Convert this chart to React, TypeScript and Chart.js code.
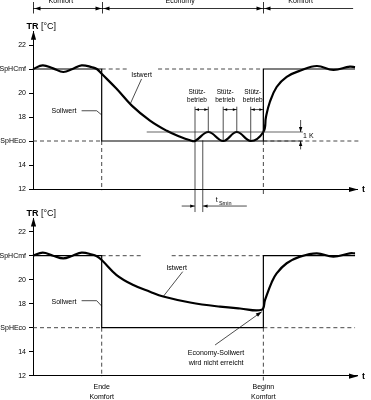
import React, { useEffect, useRef } from 'react';
import { Chart, registerables } from 'chart.js';

Chart.register(...registerables);

const FONT = '"Liberation Sans", Arial, Helvetica, sans-serif';

// ---- axes ----
const Y_TICKS = [12, 14, 16, 18, 20, 22, 24];
const Y_TICK_LABELS = ['12', '14', 'SpHEco', '18', '20', 'SpHCmf', '22'];
const Y_MIN = 12;
const Y_MAX = 25.1;
const X_MIN = 0;
const X_MAX = 100;

// ---- setpoints / phases ----
const SP_CMF = 22;
const SP_ECO = 16;
const END_COMFORT = 21.2;
const BEGIN_COMFORT = 71.1;
const SETPOINT_END = 99.4;

const PHASES = ['Komfort', 'Economy', 'Komfort'];
const PHASE_BOUNDS = [0, 21.2, 71.1, 98.8];
const PHASE_LABEL_X = [8.6, 45.4, 82.6];

// Sollwert (step)
const SOLL_X = [0, END_COMFORT, END_COMFORT, BEGIN_COMFORT, BEGIN_COMFORT, SETPOINT_END];
const SOLL_Y = [SP_CMF, SP_CMF, SP_ECO, SP_ECO, SP_CMF, SP_CMF];

// ---- Istwert curves ----
const TOP_IST_X = [0, 3.0, 6.2, 9.35, 12.2, 15.0, 18.2, 19.7, 21.2, 25.8, 30.5, 36.1, 41.3, 45.4, 48.5, 50.0, 54.1, 58.7, 62.9, 67.2, 71.1, 71.9, 73.1, 75.2, 78.3, 82.4, 87.6, 92.7, 97.8, 99.4];
const TOP_IST_Y = [22.0, 22.3, 22.05, 21.75, 22.0, 22.3, 22.15, 22.0, 21.6, 20.35, 18.95, 17.7, 16.85, 16.35, 16.06, 16.0, 16.75, 16.0, 16.75, 16.0, 16.75, 18.0, 19.25, 20.5, 21.35, 21.85, 22.25, 21.92, 22.2, 22.15];

const BOT_IST_X = [0, 3.0, 6.2, 9.35, 12.2, 15.0, 18.2, 19.7, 21.2, 25.8, 30.96, 36.1, 40.2, 48.5, 57.7, 63.9, 70.6, 71.6, 73.7, 75.2, 78.3, 82.4, 87.6, 92.7, 97.8, 99.4];
const BOT_IST_Y = [22.0, 22.25, 22.0, 21.78, 22.0, 22.25, 22.1, 21.95, 21.64, 20.39, 19.56, 19.0, 18.6, 18.1, 17.75, 17.6, 17.5, 18.3, 19.8, 20.53, 21.37, 21.92, 22.2, 21.92, 22.2, 22.2];

// ---- dashed reference lines (x ranges) ----
const TOP_CMF_DASH = [[21.2, 29.0], [38.6, 71.1]];
const TOP_ECO_DASH = [[0, 21.2], [71.1, 100.5]];
const BOT_CMF_DASH = [[21.2, 33.5], [42.8, 71.1]];
const BOT_ECO_DASH = [[0, 21.2], [71.1, 99.4]];
const TOP_VDASH_END = [11.9, 11.5];
const BOT_VDASH_END = [11.9, 11.6];

// ---- Stützbetrieb / 1K / tSmin (top) ----
const STUETZ_TROUGH_X = [50.0, 58.7, 67.2];
const STUETZ_PEAK_X = [54.1, 62.9, 71.1];
const BAND_Y = 16.75;
const BAND_X = [35.1, 83.3];
const STUETZ_TOP_Y = 18.86;
const STUETZ_ARROW_Y = 18.62;
const STUETZ_TEXT_Y = [20.06, 19.36];
const ONE_K_X = 82.6;
const TSMIN_X = [50.0, 52.4];
const TSMIN_BOTTOM_Y = 10.08;
const TSMIN_ARROW_Y = 10.58;
const TSMIN_LINE_X = [45.9, 66.0];

function segData(ranges: number[][], y: number) {
  const out: any[] = [];
  ranges.forEach((r, i) => {
    if (i > 0) out.push({ x: (ranges[i - 1][1] + r[0]) / 2, y: null });
    out.push({ x: r[0], y });
    out.push({ x: r[1], y });
  });
  return out;
}

function zip(xs: number[], ys: number[]) {
  return xs.map((x, i) => ({ x, y: ys[i] }));
}

function txt(ctx: CanvasRenderingContext2D, s: string, x: number, y: number, size = 7, align: CanvasTextAlign = 'center', bold = false) {
  ctx.save();
  ctx.font = `${bold ? 'bold ' : ''}${size}px ${FONT}`;
  ctx.fillStyle = '#000';
  ctx.textAlign = align;
  ctx.textBaseline = 'middle';
  ctx.fillText(s, x, y);
  ctx.restore();
}

function seg(ctx: CanvasRenderingContext2D, pts: number[][], w = 0.8, color = '#000', dash: number[] = []) {
  ctx.save();
  ctx.strokeStyle = color;
  ctx.lineWidth = w;
  ctx.setLineDash(dash);
  ctx.beginPath();
  pts.forEach((p, i) => (i === 0 ? ctx.moveTo(p[0], p[1]) : ctx.lineTo(p[0], p[1])));
  ctx.stroke();
  ctx.restore();
}

function head(ctx: CanvasRenderingContext2D, fx: number, fy: number, tx: number, ty: number, len = 5, half = 1.8) {
  const a = Math.atan2(ty - fy, tx - fx);
  ctx.save();
  ctx.fillStyle = '#000';
  ctx.beginPath();
  ctx.moveTo(tx, ty);
  ctx.lineTo(tx - len * Math.cos(a) + half * Math.sin(a), ty - len * Math.sin(a) - half * Math.cos(a));
  ctx.lineTo(tx - len * Math.cos(a) - half * Math.sin(a), ty - len * Math.sin(a) + half * Math.cos(a));
  ctx.closePath();
  ctx.fill();
  ctx.restore();
}

function makePlugin(variant: 'top' | 'bottom') {
  return {
    id: 'annot_' + variant,
    afterDraw(chart: any) {
      const ctx: CanvasRenderingContext2D = chart.ctx;
      const X = (v: number) => chart.scales.x.getPixelForValue(v);
      const Y = (v: number) => chart.scales.y.getPixelForValue(v);
      const a = chart.chartArea;
      const x0 = X(0);

      // axis arrows
      ctx.save();
      ctx.fillStyle = '#000';
      ctx.beginPath();
      ctx.moveTo(x0 + 0.5, a.top - 1);
      ctx.lineTo(x0 + 0.5 - 2.6, a.top + 8);
      ctx.lineTo(x0 + 0.5 + 2.6, a.top + 8);
      ctx.closePath();
      ctx.fill();
      ctx.beginPath();
      ctx.moveTo(a.right + 1, a.bottom + 0.5);
      ctx.lineTo(a.right - 8, a.bottom + 0.5 - 2.6);
      ctx.lineTo(a.right - 8, a.bottom + 0.5 + 2.6);
      ctx.closePath();
      ctx.fill();
      ctx.restore();
      txt(ctx, 't', a.right + 5, a.bottom + 1, 9, 'left', true);

      // TR [°C]
      ctx.save();
      ctx.font = `bold 9px ${FONT}`;
      const wTR = ctx.measureText('TR').width;
      ctx.restore();
      txt(ctx, 'TR', x0 - 6.5, a.top - 5, 9, 'left', true);
      txt(ctx, '[°C]', x0 - 6.5 + wTR + 2.5, a.top - 5, 9, 'left', false);

      if (variant === 'top') {
        // header
        const hy = 8.5;
        seg(ctx, [[X(PHASE_BOUNDS[0]), hy], [X(PHASE_BOUNDS[3]), hy]], 0.8);
        for (let i = 0; i < 3; i++) {
          const bx = Math.round(X(PHASE_BOUNDS[i])) + 0.5;
          seg(ctx, [[bx, 2], [bx, 13.5]], 0.8);
          head(ctx, bx + 7, hy, bx + 1, hy, 6, 1.9);
          if (i > 0) head(ctx, bx - 7, hy, bx - 1, hy, 6, 1.9);
          txt(ctx, PHASES[i], X(PHASE_LABEL_X[i]), 1.5, 7, 'center');
        }

        // Istwert label
        txt(ctx, 'Istwert', X(33.5), Y(21.5), 7);
        seg(ctx, [[X(33.5), Y(21.17)], [X(30.15), Y(19.17)]], 0.7);
        // Sollwert label
        txt(ctx, 'Sollwert', X(9.57), Y(18.5), 7);
        seg(ctx, [[X(15.0), Y(18.52)], [X(19.66), Y(18.52)], [X(END_COMFORT), Y(18.17)]], 0.7);

        // Stützbetrieb
        for (let i = 0; i < 3; i++) {
          const tx = X(STUETZ_TROUGH_X[i]);
          const pxk = X(STUETZ_PEAK_X[i]);
          txt(ctx, 'Stütz-', tx + 2, Y(STUETZ_TEXT_Y[0]), 6.5);
          txt(ctx, 'betrieb', tx + 2, Y(STUETZ_TEXT_Y[1]), 6.5);
          const bottomLeft = i === 0 ? Y(TSMIN_BOTTOM_Y) : Y(SP_ECO);
          seg(ctx, [[tx, Y(STUETZ_TOP_Y)], [tx, bottomLeft]], 0.7);
          seg(ctx, [[pxk, Y(STUETZ_TOP_Y)], [pxk, Y(BAND_Y)]], 0.7);
          const ay = Y(STUETZ_ARROW_Y);
          seg(ctx, [[tx, ay], [pxk, ay]], 0.7);
          head(ctx, tx + 4, ay, tx + 0.5, ay, 3.5, 1.4);
          head(ctx, pxk - 4, ay, pxk - 0.5, ay, 3.5, 1.4);
        }
        // 1 K band
        seg(ctx, [[X(BAND_X[0]), Y(BAND_Y)], [X(BAND_X[1]), Y(BAND_Y)]], 0.7, '#222');
        seg(ctx, [[X(BEGIN_COMFORT), Y(SP_ECO)], [X(BAND_X[1]), Y(SP_ECO)]], 0.8, '#222');
        const kx = X(ONE_K_X);
        seg(ctx, [[kx, Y(17.75)], [kx, Y(BAND_Y)]], 0.7);
        head(ctx, kx, Y(17.4), kx, Y(BAND_Y), 5, 1.7);
        seg(ctx, [[kx, Y(15.3)], [kx, Y(SP_ECO)]], 0.7);
        head(ctx, kx, Y(15.6), kx, Y(SP_ECO), 5, 1.7);
        txt(ctx, '1 K', kx + 2.5, Y(16.4), 7, 'left');

        // tSmin
        const t1 = X(TSMIN_X[1]);
        const t0 = X(TSMIN_X[0]);
        seg(ctx, [[t1, Y(16.05)], [t1, Y(TSMIN_BOTTOM_Y)]], 0.7);
        const ty = Y(TSMIN_ARROW_Y);
        seg(ctx, [[X(TSMIN_LINE_X[0]), ty], [t0, ty]], 0.7);
        head(ctx, t0 - 5, ty, t0 - 0.3, ty, 4.5, 1.6);
        seg(ctx, [[t1, ty], [X(TSMIN_LINE_X[1]), ty]], 0.7);
        head(ctx, t1 + 5, ty, t1 + 0.3, ty, 4.5, 1.6);
        txt(ctx, 't', X(56.4), Y(11.1), 7, 'left');
        txt(ctx, 'Smin', X(56.4) + 3.2, Y(10.83), 5.5, 'left');
      } else {
        txt(ctx, 'Istwert', X(44.35), Y(21.0), 7);
        seg(ctx, [[X(46.2), Y(20.67)], [X(40.2), Y(18.6)]], 0.7);
        txt(ctx, 'Sollwert', X(9.57), Y(18.12), 7);
        seg(ctx, [[X(15.0), Y(18.25)], [X(19.66), Y(18.25)], [X(END_COMFORT), Y(17.8)]], 0.7);

        txt(ctx, 'Economy-Sollwert', X(56.5), Y(13.92), 7);
        txt(ctx, 'wird nicht erreicht', X(56.5), Y(13.03), 7);
        seg(ctx, [[X(56.2), Y(14.56)], [X(70.6), Y(17.33)]], 0.7);
        head(ctx, X(56.2), Y(14.56), X(70.6), Y(17.33), 6, 2);

        txt(ctx, 'Ende', X(END_COMFORT), a.bottom + 11.6, 7);
        txt(ctx, 'Komfort', X(END_COMFORT), a.bottom + 21.6, 7);
        txt(ctx, 'Beginn', X(BEGIN_COMFORT), a.bottom + 11.6, 7);
        txt(ctx, 'Komfort', X(BEGIN_COMFORT), a.bottom + 21.6, 7);
      }
    },
  };
}

function buildConfig(variant: 'top' | 'bottom', padTop: number, padBottom: number) {
  const top = variant === 'top';
  const ist = top ? zip(TOP_IST_X, TOP_IST_Y) : zip(BOT_IST_X, BOT_IST_Y);
  const cmfDash = top ? TOP_CMF_DASH : BOT_CMF_DASH;
  const ecoDash = top ? TOP_ECO_DASH : BOT_ECO_DASH;
  const vEnd = top ? TOP_VDASH_END : BOT_VDASH_END;
  const base = { pointRadius: 0, pointHoverRadius: 0, fill: false, clip: false as any, spanGaps: false };
  const dashStyle = { borderColor: '#333', borderWidth: 0.9, borderDash: [4, 3], tension: 0 };
  return {
    type: 'line' as const,
    data: {
      datasets: [
        { ...base, label: 'Istwert', data: ist, borderColor: '#000', borderWidth: 2.2, tension: 0.4, cubicInterpolationMode: 'default' as const, capBezierPoints: false },
        { ...base, label: 'Sollwert', data: zip(SOLL_X, SOLL_Y), borderColor: '#000', borderWidth: 1.2, tension: 0 },
        { ...base, label: 'SpHCmf', data: segData(cmfDash, SP_CMF), ...dashStyle },
        { ...base, label: 'SpHEco', data: segData(ecoDash, SP_ECO), ...dashStyle },
        {
          ...base,
          label: 'v1',
          data: [{ x: END_COMFORT, y: SP_ECO }, { x: END_COMFORT, y: vEnd[0] }, { x: (END_COMFORT + BEGIN_COMFORT) / 2, y: null }, { x: BEGIN_COMFORT, y: SP_ECO }, { x: BEGIN_COMFORT, y: vEnd[1] }],
          ...dashStyle,
        },
      ],
    },
    options: {
      responsive: false,
      maintainAspectRatio: false,
      animation: false as const,
      events: [],
      layout: { padding: { left: 0, right: 14, top: padTop, bottom: padBottom } },
      plugins: { legend: { display: false }, tooltip: { enabled: false } },
      scales: {
        x: {
          type: 'linear' as const,
          min: X_MIN,
          max: X_MAX,
          ticks: { display: false },
          grid: { display: false },
          border: { display: true, color: '#000', width: 1 },
          afterFit: (s: any) => { s.height = 0; },
        },
        y: {
          type: 'linear' as const,
          min: Y_MIN,
          max: Y_MAX,
          afterBuildTicks: (s: any) => { s.ticks = Y_TICKS.map((v) => ({ value: v })); },
          afterFit: (s: any) => { s.width = 33; },
          ticks: {
            autoSkip: false,
            padding: 3,
            color: '#000',
            font: { family: FONT, size: 7 },
            callback: (v: any) => {
              const i = Y_TICKS.indexOf(Number(v));
              return i >= 0 ? Y_TICK_LABELS[i] : '';
            },
          },
          grid: { display: true, drawOnChartArea: false, drawTicks: true, tickLength: 4, color: '#000', lineWidth: 1 },
          border: { display: true, color: '#000', width: 1 },
        },
      },
    },
    plugins: [makePlugin(variant)],
  };
}

function ChartCanvas(props: { variant: 'top' | 'bottom'; top: number; height: number; padTop: number; padBottom: number }) {
  const ref = useRef<HTMLCanvasElement>(null);
  useEffect(() => {
    const chart = new Chart(ref.current as HTMLCanvasElement, buildConfig(props.variant, props.padTop, props.padBottom) as any);
    return () => chart.destroy();
  }, []);
  return (
    <canvas
      ref={ref}
      width={371}
      height={props.height}
      style={{ position: 'absolute', left: 0, top: props.top, width: 371, height: props.height, display: 'block' }}
    />
  );
}

export default function App() {
  return (
    <div style={{ position: 'absolute', left: 0, top: 0, width: 371, height: 400, background: '#fff' }}>
      <ChartCanvas variant="top" top={0} height={220} padTop={31.8} padBottom={31} />
      <ChartCanvas variant="bottom" top={195} height={205} padTop={23.5} padBottom={24.3} />
    </div>
  );
}
